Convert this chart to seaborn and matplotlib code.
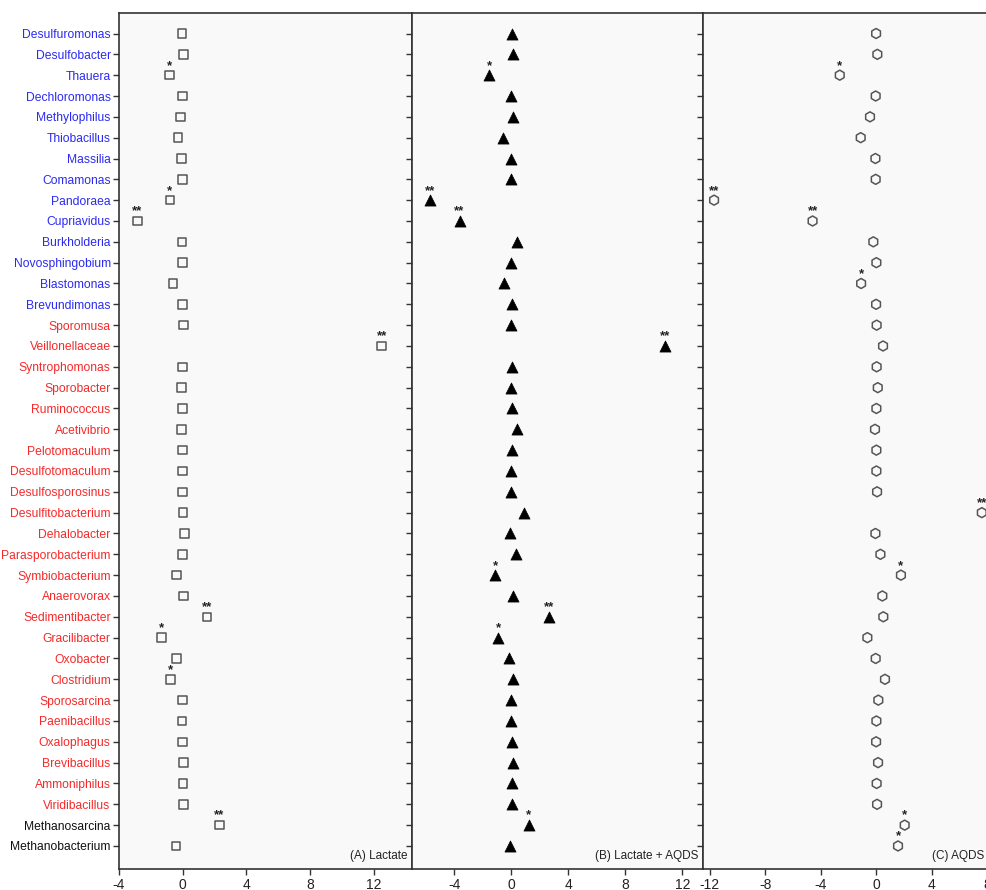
import matplotlib
matplotlib.use("Agg")
import matplotlib.pyplot as plt
import seaborn as sns
import pandas as pd
import numpy as np

genera = ["Desulfuromonas", "Desulfobacter", "Thauera", "Dechloromonas", "Methylophilus",
          "Thiobacillus", "Massilia", "Comamonas", "Pandoraea", "Cupriavidus",
          "Burkholderia", "Novosphingobium", "Blastomonas", "Brevundimonas", "Sporomusa",
          "Veillonellaceae", "Syntrophomonas", "Sporobacter", "Ruminococcus", "Acetivibrio",
          "Pelotomaculum", "Desulfotomaculum", "Desulfosporosinus", "Desulfitobacterium",
          "Dehalobacter", "Parasporobacterium", "Symbiobacterium", "Anaerovorax",
          "Sedimentibacter", "Gracilibacter", "Oxobacter", "Clostridium", "Sporosarcina",
          "Paenibacillus", "Oxalophagus", "Brevibacillus", "Ammoniphilus", "Viridibacillus",
          "Methanosarcina", "Methanobacterium"]

label_groups = ["blue"] * 14 + ["red"] * 24 + ["black"] * 2

lactate = [-0.04, 0.04, -0.82, -0.02, -0.13, -0.29, -0.06, -0.02, -0.80, -2.85,
           -0.04, 0.00, -0.61, -0.02, 0.06, 12.50, 0.00, -0.08, 0.00, -0.08,
           0.00, 0.00, 0.00, 0.02, 0.12, 0.00, -0.40, 0.04, 1.53, -1.32,
           -0.40, -0.78, -0.02, -0.04, 0.00, 0.06, 0.02, 0.06, 2.30, -0.42]

lactate_aqds = [0.09, 0.12, -1.52, -0.02, 0.12, -0.58, -0.02, -0.02, -5.68, -3.62,
                0.40, 0.02, -0.47, 0.05, 0.02, 10.77, 0.05, 0.02, 0.05, 0.44,
                0.05, 0.02, 0.00, 0.91, -0.05, 0.37, -1.12, 0.12, 2.64, -0.91,
                -0.12, 0.16, 0.02, 0.02, 0.09, 0.16, 0.05, 0.09, 1.24, -0.07]

aqds = [-0.02, 0.07, -2.64, -0.05, -0.46, -1.13, -0.07, -0.05, -11.70, -4.60,
        -0.22, 0.00, -1.10, -0.02, 0.02, 0.48, 0.02, 0.10, 0.00, -0.10,
        0.00, 0.00, 0.05, 7.60, -0.07, 0.29, 1.77, 0.43, 0.50, -0.65,
        -0.05, 0.62, 0.14, 0.00, -0.02, 0.12, 0.02, 0.05, 2.04, 1.56]

sig_lactate = {"Thauera": "*", "Pandoraea": "*", "Cupriavidus": "**", "Veillonellaceae": "**",
               "Sedimentibacter": "**", "Gracilibacter": "*", "Clostridium": "*",
               "Methanosarcina": "**"}
sig_lactate_aqds = {"Thauera": "*", "Pandoraea": "**", "Cupriavidus": "**", "Veillonellaceae": "**",
                    "Symbiobacterium": "*", "Sedimentibacter": "**", "Gracilibacter": "*",
                    "Methanosarcina": "*"}
sig_aqds = {"Thauera": "*", "Pandoraea": "**", "Cupriavidus": "**", "Blastomonas": "*",
            "Desulfitobacterium": "**", "Symbiobacterium": "*", "Methanosarcina": "*",
            "Methanobacterium": "*"}

panel_titles = ["(A) Lactate", "(B) Lactate + AQDS", "(C) AQDS"]
x_ticks = [[-4, 0, 4, 8, 12], [-4, 0, 4, 8, 12], [-12, -8, -4, 0, 4, 8]]

sns.set_theme(style="ticks")
plt.rcParams["font.family"] = ["Liberation Sans", "DejaVu Sans"]

label_colors = {"blue": "#2b2bf0", "red": "#f52a2a", "black": "#111111"}

fig = plt.figure(figsize=(9.86, 8.90), dpi=100)
bottom = 1 - 869.3 / 890
top = 1 - 13.3 / 890
h = top - bottom
positions = [
    (119 / 986, bottom, (412 - 119) / 986, h),
    (412 / 986, bottom, (702.7 - 412) / 986, h),
    (702.7 / 986, bottom, (1004 - 702.7) / 986, h),
]
xlims = [(-4.0, 14.4), (-6.95, 13.42), (-12.52, 9.2)]

values_list = [lactate, lactate_aqds, aqds]
sig_list = [sig_lactate, sig_lactate_aqds, sig_aqds]
marker_styles = [
    dict(marker="s", s=38, facecolor="none", edgecolor="#555555", linewidth=1.1),
    dict(marker="^", s=64, color="black", edgecolor="black", linewidth=0.5),
    dict(marker="h", s=52, facecolor="none", edgecolor="#555555", linewidth=1.1),
]

for k in range(3):
    ax = fig.add_axes(positions[k])
    ax.set_facecolor("#f9f9f9")
    df = pd.DataFrame({"genus": genera, "value": values_list[k]})
    sns.scatterplot(data=df, x="value", y="genus", ax=ax, legend=False, **marker_styles[k])
    for i, (g, v) in enumerate(zip(genera, values_list[k])):
        if g in sig_list[k]:
            ax.annotate(sig_list[k][g], (v, i), xytext=(0, 2.5), textcoords="offset points",
                        ha="center", va="bottom", fontsize=9.5, fontweight="bold",
                        color="#222222")
    ax.set_xlim(*xlims[k])
    ax.set_ylim(len(genera) + 0.12, -0.97)
    ax.set_xticks(x_ticks[k])
    ax.set_xticklabels([str(t) for t in x_ticks[k]], fontsize=10)
    ax.set_xlabel("")
    ax.set_ylabel("")
    ax.tick_params(axis="both", direction="out", length=4, width=1.0, color="#333333")
    ax.tick_params(axis="x", pad=2, labelcolor="#222222")
    for sp in ax.spines.values():
        sp.set_visible(True)
        sp.set_color("#333333")
        sp.set_linewidth(1.2)
    ax.set_yticks(range(len(genera)))
    if k == 0:
        ax.set_yticklabels(genera, fontsize=8.7)
        for lab, grp in zip(ax.get_yticklabels(), label_groups):
            lab.set_color(label_colors[grp])
        ax.tick_params(axis="y", pad=2)
    else:
        ax.set_yticklabels([])
    if k < 2:
        tx = 0.985
    else:
        tx = (984 - 702.7) / (1004 - 702.7)
    ax.text(tx, 0.008, panel_titles[k], transform=ax.transAxes, ha="right", va="bottom",
            fontsize=8.5, color="#222222")

fig.savefig("out.png", dpi=100, facecolor="white")
